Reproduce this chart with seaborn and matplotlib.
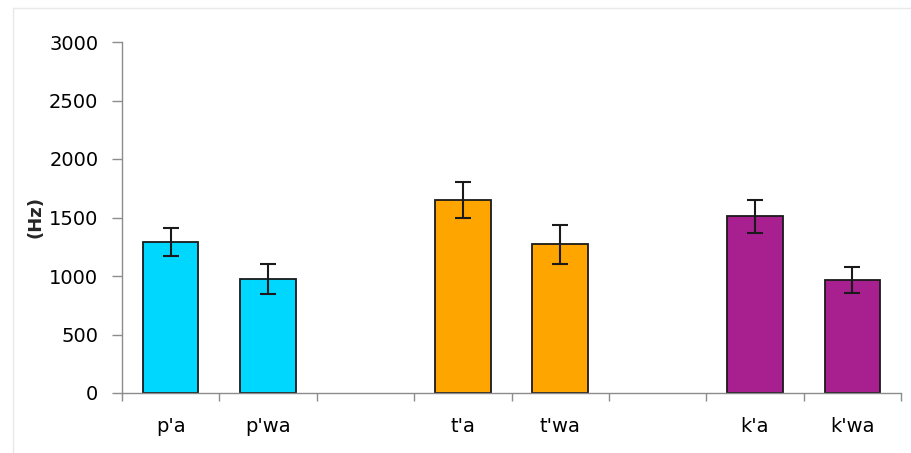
import matplotlib
matplotlib.use("Agg")
import matplotlib.pyplot as plt
import numpy as np
import pandas as pd
import seaborn as sns
from matplotlib.lines import Line2D
from matplotlib.ticker import FixedLocator, MultipleLocator

# values
labels = ["p'a", "p'wa", "t'a", "t'wa", "k'a", "k'wa"]
places = ["p", "p", "t", "t", "k", "k"]
means = [1290, 975, 1650, 1270, 1510, 965]
errors = [118, 128, 150, 168, 143, 111]
slots = ["p'a", "p'wa", " ", "t'a", "t'wa", "  ", "k'a", "k'wa"]
colors = {"p": "#00D7FF", "t": "#FFA500", "k": "#A82090"}

df = pd.DataFrame({"label": labels, "place": places, "hz": means})

sns.set_theme(style="white")
plt.rcParams["font.family"] = ["DejaVu Sans"]

fig = plt.figure(figsize=(9.11, 4.53), dpi=100)
ax = fig.add_axes([122 / 911, 1 - 393 / 453, (901 - 122) / 911, (393 - 42) / 453])

sns.barplot(data=df, x="label", y="hz", hue="place", order=slots,
            palette=colors, dodge=False, width=0.57, saturation=1,
            edgecolor="#1a1a1a", linewidth=1.3, legend=False, ax=ax)

# error bars at the bar positions
pos = [slots.index(l) for l in labels]
ax.errorbar(pos, means, yerr=errors, fmt="none", ecolor="#1a1a1a",
            elinewidth=1.5, capsize=6, capthick=1.5)

ax.set_xlim(-0.5, len(slots) - 0.5)
ax.set_ylim(0, 3000)
ax.yaxis.set_major_locator(MultipleLocator(500))
ax.set_xlabel("")
ax.set_ylabel("(Hz)", fontsize=13, fontweight="bold", labelpad=3)

for s in ["top", "right"]:
    ax.spines[s].set_visible(False)
for s in ["left", "bottom"]:
    ax.spines[s].set_color("#8c8c8c")
    ax.spines[s].set_linewidth(1)

ax.tick_params(axis="y", which="major", left=True, length=7, width=1,
               color="#8c8c8c", labelsize=14, pad=10, labelcolor="black")
# x tick marks sit at the category boundaries
ax.xaxis.set_minor_locator(FixedLocator(np.arange(-0.5, len(slots), 1.0)))
ax.tick_params(axis="x", which="minor", bottom=True, length=6, width=1,
               color="#8c8c8c")
ax.tick_params(axis="x", which="major", bottom=False, length=0,
               labelsize=14, pad=17, labelcolor="black")

# faint chart-area frame, only its left and top edges show
fx, fy = 12.5 / 911, 1 - 7.5 / 453
fig.add_artist(Line2D([fx, 1], [fy, fy], transform=fig.transFigure,
                      color="#e8e8e8", linewidth=1))
fig.add_artist(Line2D([fx, fx], [0, fy], transform=fig.transFigure,
                      color="#e8e8e8", linewidth=1))

fig.savefig("out.png", dpi=100)
